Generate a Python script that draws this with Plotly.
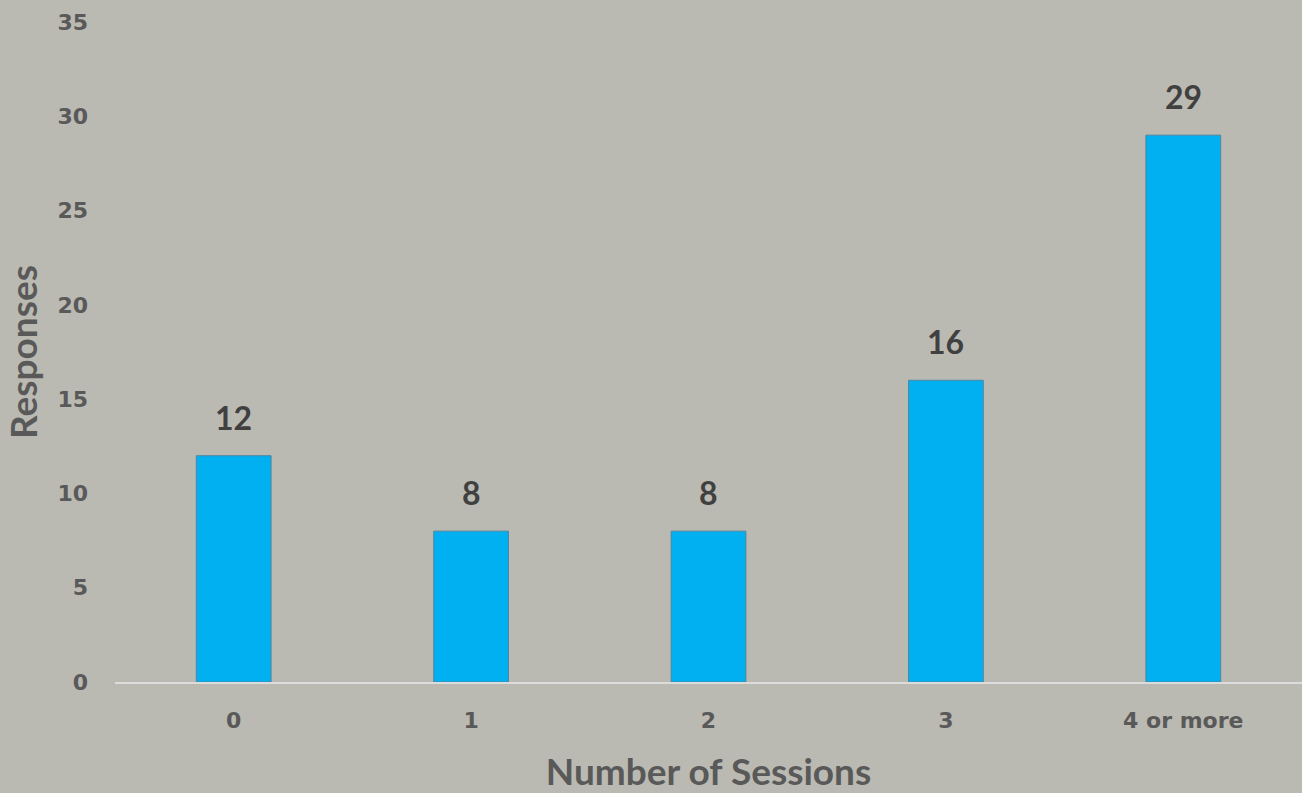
import plotly.graph_objects as go

categories = ["0", "1", "2", "3", "4 or more"]
responses = [12, 8, 8, 16, 29]
y_ticks = [0, 5, 10, 15, 20, 25, 30, 35]

BG = "#BBBAB2"
BAR = "#00B0F0"

fig = go.Figure()
fig.add_trace(go.Bar(
    x=categories, y=responses, width=0.315,
    marker=dict(color=BAR, line=dict(color="#4F86A0", width=1)),
    hoverinfo="x+y",
))

for c, v in zip(categories, responses):
    fig.add_annotation(x=c, y=v, text=str(v), showarrow=False,
                       yanchor="bottom", yshift=17,
                       font=dict(family="Lato", size=32, color="#404040", weight="bold"))

fig.update_layout(
    width=1302, height=793,
    margin=dict(l=115, r=0, t=22, b=111),
    paper_bgcolor=BG, plot_bgcolor=BG,
    showlegend=False,
    xaxis=dict(
        type="category", range=[-0.5, 4.5],
        showline=True, linecolor="#DCDCDC", linewidth=2,
        showgrid=False, ticks="", ticklabelstandoff=18,
        tickfont=dict(family="DejaVu Sans", size=22, color="#595959", weight="bold"),
        title=dict(text="Number of Sessions", standoff=28,
                   font=dict(family="Lato", size=37, color="#595959", weight="bold")),
    ),
    yaxis=dict(
        range=[0, 35], tickvals=y_ticks, showgrid=False, zeroline=False,
        showline=False, ticks="", ticklabelstandoff=26,
        tickfont=dict(family="DejaVu Sans", size=22, color="#595959", weight="bold"),
        title=dict(text="Responses", standoff=10,
                   font=dict(family="Lato", size=37, color="#595959", weight="bold")),
    ),
)

fig.write_html("out.html", config={"displayModeBar": False},
               post_script="document.body.style.margin='0';")
